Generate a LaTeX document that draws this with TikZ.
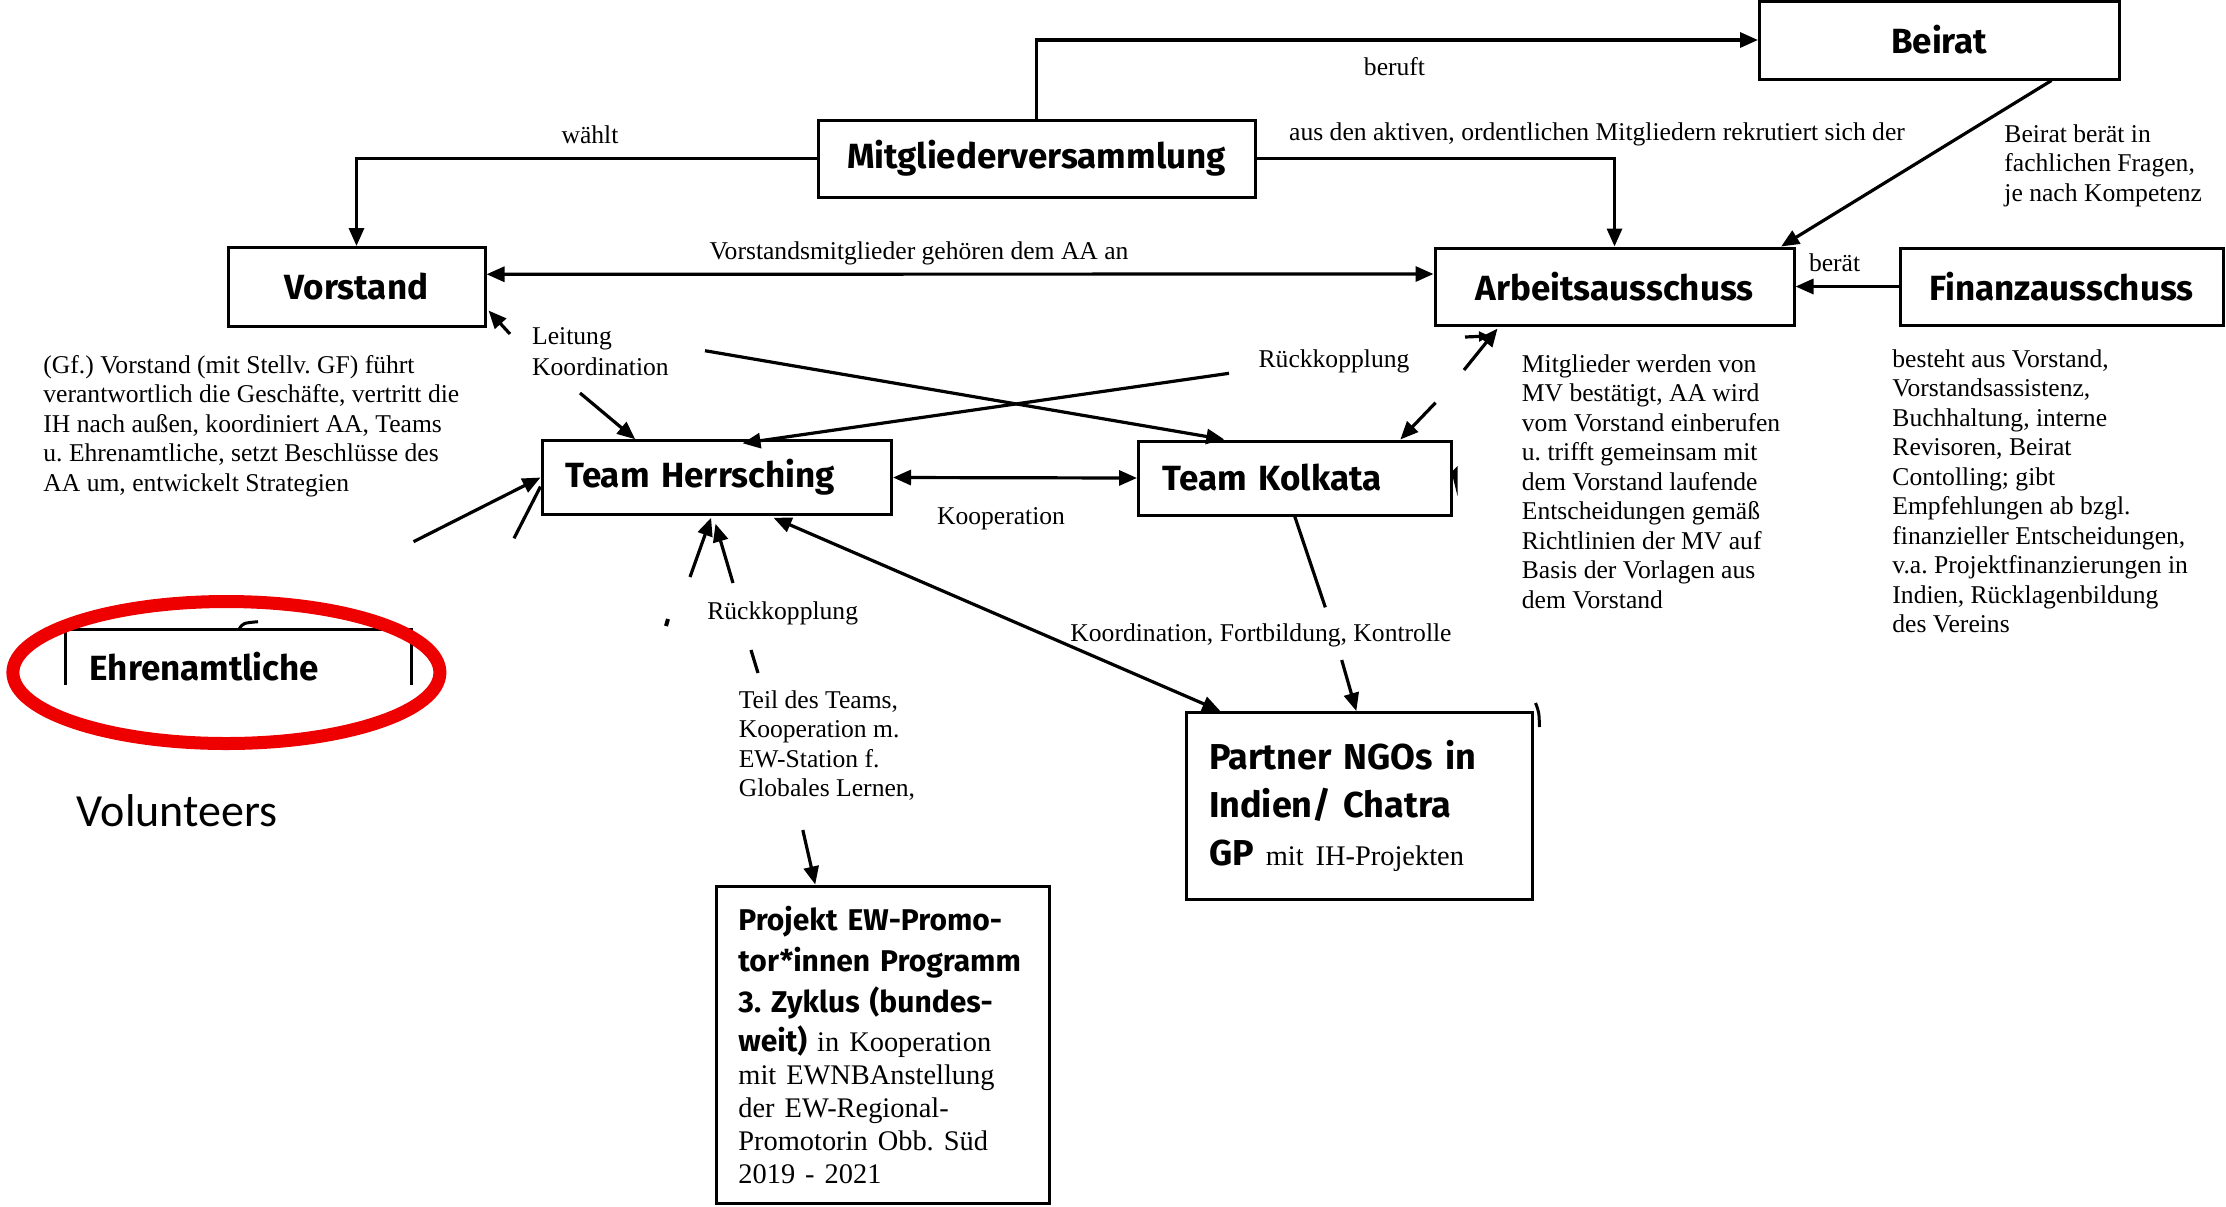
\documentclass[tikz,border=0pt]{standalone}
\usepackage{fontspec}
\setmainfont{Liberation Serif}
\newfontfamily\titlefont{Fira Sans}
\newfontfamily\calfont{Carlito}
\usetikzlibrary{arrows.meta,calc}
\definecolor{hl}{RGB}{238,0,0}
\newcommand\pser{\rmfamily\mdseries\fontsize{14.2pt}{16.5pt}\selectfont}
\newcommand\pserb{\rmfamily\mdseries\fontsize{14.2pt}{24pt}\selectfont}
\frenchspacing
\begin{document}
\begin{tikzpicture}[x=0.5pt,y=-0.5pt,
  box/.style={draw, line width=1.5pt, inner sep=0pt, font=\titlefont\bfseries\fontsize{17.5pt}{20pt}\selectfont},
  title/.style={inner sep=0pt, font=\titlefont\bfseries\fontsize{17.5pt}{20pt}\selectfont},
  body/.style={inner sep=0pt, font=\fontsize{12.8pt}{14.75pt}\selectfont},
  blk/.style={body, align=left, anchor=north west},
  conn/.style={line width=1.6pt},
  arr/.style={conn, -{Triangle[length=9pt,width=7.5pt]}},
  arr2/.style={conn, {Triangle[length=9pt,width=7.5pt]}-{Triangle[length=9pt,width=7.5pt]}},
]
\fill[white] (0,0) rectangle (2226,1206);
\useasboundingbox (0,0) rectangle (2226,1206);

% ---------- boxes ----------
\node[box, minimum width=218.5pt, minimum height=38.5pt] (mv) at (1036.5,158.5) {Mitgliederversammlung};
\node[box, minimum width=179.75pt, minimum height=39pt] (beirat) at (1939.25,40) {Beirat};
\node[box, minimum width=128.5pt, minimum height=39.25pt] (vorstand) at (356.5,286.75) {Vorstand};
\node[box, minimum width=179.5pt, minimum height=38.5pt] (aa) at (1614.5,286.5) {Arbeitsausschuss};
\node[box, minimum width=161.5pt, minimum height=38.5pt] (finanz) at (2061.5,286.5) {Finanzausschuss};
\node[box, text width=151.75pt, inner xsep=11.5pt, align=left, minimum height=36.75pt] (th) at (716.75,477.5) {\mbox{Team Herrsching}};
\node[box, text width=132.25pt, inner xsep=12pt, align=left, minimum height=37pt] (tk) at (1294.75,478) {\mbox{Team Kolkata}};
\node[box, text width=150.25pt, inner xsep=11.25pt, align=left, minimum height=93.25pt,
      font=\titlefont\bfseries\fontsize{18pt}{24pt}\selectfont] (partner) at (1359.25,805.75)
  {\mbox{Partner NGOs in}\\\mbox{Indien/ Chatra}\\\mbox{GP {\pserb mit IH-Projekten}}};
\node[box, text width=144.75pt, inner xsep=10.85pt, align=left, minimum height=158.5pt,
      font=\titlefont\bfseries\fontsize{15pt}{16.5pt}\selectfont] (projekt) at (883.15,1044.5)
  {\mbox{Projekt EW-Promo-}\\[4pt]\mbox{tor*innen Programm}\\[4pt]\mbox{3. Zyklus (bundes-}\\[3pt]\mbox{weit) {\pser in Kooperation}}\\\mbox{\pser mit EWNBAnstellung}\\\mbox{\pser der EW-Regional-}\\\mbox{\pser Promotorin Obb. Süd}\\\mbox{\pser 2019 - 2021}};

% Ehrenamtliche (open box)
\draw[line width=1.3pt] (65.7,685) -- (65.7,629.3) -- (411.4,629.3) -- (411.4,685);
\node[title, anchor=west] (ehren) at (89,667) {Ehrenamtliche};
\draw[line width=1.5pt] (239,629.3) .. controls (243,623) .. (258,621.7);

% ---------- text blocks ----------
\node[blk] (vdesc) at (43,352.4) {\strut(Gf.) Vorstand (mit Stellv. GF) führt\\verantwortlich die Geschäfte, vertritt die\\IH nach außen, koordiniert AA, Teams\\u. Ehrenamtliche, setzt Beschlüsse des\\AA um, entwickelt Strategien};
\node[blk] (leit) at (531.8,323.4) {\strut Leitung\\[1pt]Koordination};
\node[blk] (aadesc) at (1521.5,351.4) {\strut Mitglieder werden von\\MV bestätigt, AA wird\\vom Vorstand einberufen\\u. trifft gemeinsam mit\\dem Vorstand laufende\\Entscheidungen gemäß\\Richtlinien der MV auf\\Basis der Vorlagen aus\\dem Vorstand};
\node[blk] (findesc) at (1892,346.4) {\strut besteht aus Vorstand,\\Vorstandsassistenz,\\Buchhaltung, interne\\Revisoren, Beirat\\Contolling; gibt\\Empfehlungen ab bzgl.\\finanzieller Entscheidungen,\\v.a. Projektfinanzierungen in\\Indien, Rücklagenbildung\\des Vereins};
\node[blk] (bdesc) at (2004,121) {\strut Beirat berät in\\fachlichen Fragen,\\je nach Kompetenz};
\node[blk] (teil) at (738.4,687.4) {\strut Teil des Teams,\\Kooperation m.\\EW-Station f.\\Globales Lernen,};

% ---------- labels ----------
\node[body] (lwaehlt) at (590,135) {wählt};
\node[body] (lberuft) at (1394.5,67) {beruft};
\node[body] (laus) at (1597,134.7) {aus den aktiven, ordentlichen Mitgliedern rekrutiert sich der};
\node[body] (lvm) at (919,253) {Vorstandsmitglieder gehören dem AA an};
\node[body] (lberaet) at (1834.6,263) {berät};
\node[body] (lrk1) at (1334,361.7) {Rückkopplung};
\node[body] (lkoop) at (1001,518.3) {Kooperation};
\node[body] (lrk2) at (782.7,613.5) {Rückkopplung};
\node[body] (lkfk) at (1261,635) {Koordination, Fortbildung, Kontrolle};

\node[inner sep=0pt, font=\calfont\fontsize{23pt}{28pt}\selectfont] (vol) at (177,811) {Volunteers};

% ---------- free ends ----------
\coordinate (g0) at (510,334);
\coordinate (h0) at (580,393);
\coordinate (i0) at (705,350.7);
\coordinate (j0) at (1229,373.3);
\coordinate (l1) at (413.5,541.7);
\coordinate (l2) at (514,538.3);
\coordinate (m1) at (690,577);
\coordinate (m2) at (733,583);
\coordinate (o1) at (1325.3,607.3);
\coordinate (o2) at (1341.7,660);
\coordinate (p0) at (1435.5,402.7);
\coordinate (q0) at (1464,370);
\coordinate (q1) at (1465,337);
\coordinate (q2) at (1489,336);
\coordinate (r0) at (802.8,830);

% ---------- connectors ----------
\draw[arr] (mv.north) |- (beirat.west);
\draw[arr] (mv.west) -| (vorstand.north);
\draw[arr] (mv.east) -| (aa.north);
\draw[arr2] ($(vorstand.east)+(0,-12.5)$) -- ($(aa.west)+(0,-12.5)$);
\draw[arr] ($(beirat.south west)+(293.5,0)$) -- ($(aa.north east)+(-14.4,0)$);
\draw[arr] (finanz.west) -- (aa.east);
\draw[arr] (g0) -- ($(vorstand.south east)+(2,-17)$);
\draw[arr] (h0) -- ($(th.north west)+(94.7,0)$);
\draw[arr] (i0) -- ($(tk.north west)+(87.3,0)$);
\draw[arr] (j0) -- ($(th.north west)+(202,4)$);
\draw[arr2] (th.east) -- (tk.west);
\draw[arr] (l1) -- (th.west);
\draw[conn] (l2) -- ($(th.west)+(0,9)$);
\draw[arr] (m1) -- ($(th.south west)+(170.6,2)$);
\draw[arr] (m2) -- ($(th.south west)+(175,8)$);
\draw[arr2] ($(th.south west)+(233,2)$) -- ($(partner.north west)+(35.3,0)$);
\draw[conn] (tk.south) -- (o1);
\draw[arr] (o2) -- ($(partner.north west)+(171.3,0)$);
\draw[arr] (p0) -- ($(tk.north west)+(263.3,0)$);
\draw[arr] (q0) -- ($(aa.south west)+(64,2)$);
\draw[conn, -{Triangle[length=5pt,width=5pt]}] (q1) -- (q2);
\draw[arr] (r0) -- ($(projekt.north west)+(100,0)$);

% small strokes
\draw[conn] (751,650) -- (758,673);
\draw[line width=2pt] (668,619) -- (666,626);
\draw[line width=1.5pt] (1535.5,703) .. controls (1539,712) .. (1539.5,727);
\fill ($(tk.east)+(-1,-6)$) -- ($(tk.east)+(5,-12)$) -- ($(tk.east)+(5,18)$) -- cycle;

% highlight
\draw[hl, line width=6.5pt] (226.4,672.5) ellipse [x radius=213.5, y radius=71];
\end{tikzpicture}
\end{document}
